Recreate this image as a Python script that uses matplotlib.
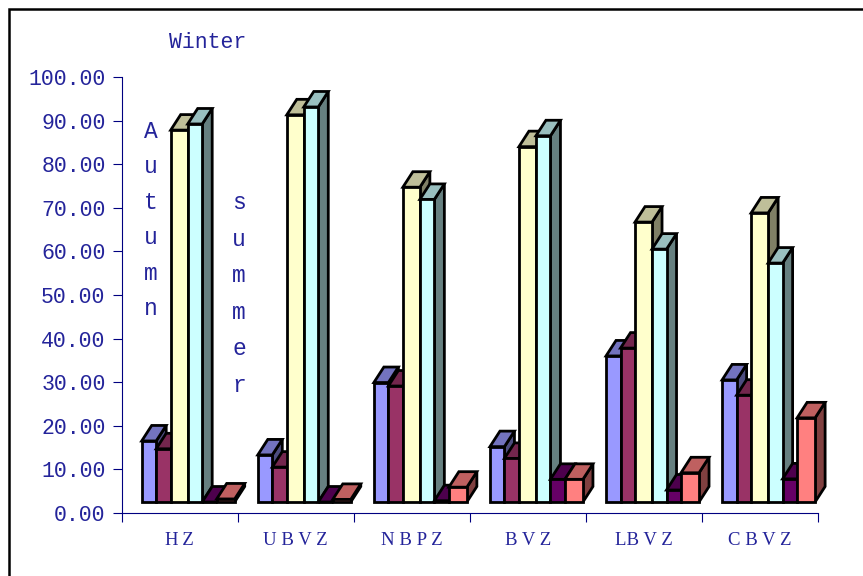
import matplotlib
matplotlib.use("Agg")
import matplotlib.pyplot as plt
from matplotlib.patches import Rectangle
from matplotlib.colors import to_rgb

categories = ["H\u2009Z", "U B V Z", "N B P Z", "B V Z", "LB V Z", "C B V Z"]
s1 = [14.0, 10.8, 27.4, 12.7, 33.5, 28.0]
s2 = [12.2, 8.0, 26.6, 10.0, 35.3, 24.5]
s3 = [85.3, 88.8, 72.2, 81.5, 64.2, 66.3]
s4 = [86.7, 90.6, 69.4, 84.0, 58.0, 54.8]
s5 = [0.0, 0.0, 0.3, 5.2, 2.75, 5.3]
s6 = [0.7, 0.6, 3.4, 5.2, 6.7, 19.3]
series = [s1, s2, s3, s4, s5, s6]
colors = ["#9999FF", "#993366", "#FFFFCC", "#CCFFFF", "#660066", "#FF8080"]
yticks = [0, 10, 20, 30, 40, 50, 60, 70, 80, 90, 100]

W, H = 863, 576
L, R, T, B = 121.5, 818, 77, 513
fig = plt.figure(figsize=(W / 100, H / 100), dpi=100, facecolor="white")
ax = fig.add_axes([L / W, 1 - B / H, (R - L) / W, (B - T) / H])
ax.set_xlim(0, 6)
ax.set_ylim(0, 100)
ax.patch.set_visible(False)

px_x = 6 / (R - L)
px_y = 100 / (B - T)
floor = 11 * px_y
dx, dy = 10 * px_x, 15.5 * px_y
group_off = 20.2
edges = [0, 14.5, 29, 46, 60.5, 75, 93]
lw = 2.0


def shade(c, f):
    return tuple(v * f for v in to_rgb(c))


for g in range(len(categories)):
    for i, vals in enumerate(series):
        x0 = g + (group_off + edges[i]) * px_x
        x1 = g + (group_off + edges[i + 1]) * px_x
        top = floor + vals[g]
        z = 3 + i * 3
        kw = dict(edgecolor="black", linewidth=lw, joinstyle="miter", clip_on=False)
        ax.fill([x1, x1 + dx, x1 + dx, x1], [floor, floor + dy, top + dy, top],
                facecolor=shade(colors[i], 0.5), zorder=z, **kw)
        ax.fill([x0, x0 + dx, x1 + dx, x1], [top, top + dy, top + dy, top],
                facecolor=shade(colors[i], 0.75), zorder=z + 1, **kw)
        ax.bar(x0, vals[g], width=x1 - x0, bottom=floor, align="edge",
               facecolor=colors[i], zorder=z + 2, **kw)

navy = "#000080"
txt = "#24249a"
for s in ("top", "right"):
    ax.spines[s].set_visible(False)
for s in ("left", "bottom"):
    ax.spines[s].set_color(navy)
    ax.spines[s].set_linewidth(0.8)

ax.set_yticks(yticks)
ax.set_yticklabels([f"{v:.2f}" for v in yticks], family="Liberation Mono",
                   fontsize=15.5, color=txt)
ax.tick_params(axis="y", length=6.5, width=0.8, color=navy, pad=5)
ax.set_xticks(range(7))
ax.set_xticklabels([])
ax.tick_params(axis="x", which="major", length=6.5, width=0.8, color=navy)
ax.set_xticks([i + 0.5 for i in range(6)], minor=True)
ax.set_xticklabels(categories, minor=True, family="Liberation Serif",
                   fontsize=13.5, color=txt)
ax.tick_params(axis="x", which="minor", length=0, pad=14)

fig.text(207.5 / W, 1 - 42 / H, "Winter", family="Liberation Mono", fontsize=15.5,
         color=txt, ha="center", va="center")
fig.text(151 / W, 1 - 220 / H, "\n".join("Autumn"), family="Liberation Mono",
         fontsize=16.5, color=txt, ha="center", va="center", linespacing=1.69)
fig.text(239 / W, 1 - 294 / H, "\n".join("summer"), family="Liberation Mono",
         fontsize=16.5, color=txt, ha="center", va="center", linespacing=1.755)

fig.add_artist(Rectangle((9 / W, -0.05), 1.0, 1 - 9 / H + 0.05, transform=fig.transFigure,
                         fill=False, edgecolor="black", linewidth=1.8))
fig.savefig("out.png", dpi=100)
